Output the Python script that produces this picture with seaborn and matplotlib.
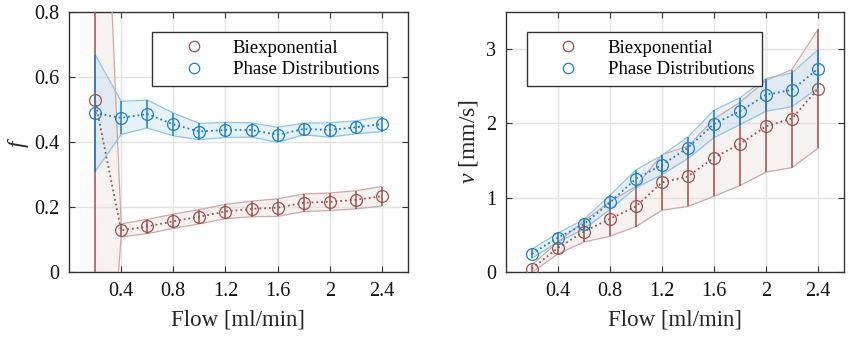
import numpy as np
import pandas as pd
import seaborn as sns
import matplotlib.pyplot as plt
from matplotlib.lines import Line2D

flow = [0.2, 0.4, 0.6, 0.8, 1.0, 1.2, 1.4, 1.6, 1.8, 2.0, 2.2, 2.4]

# perfusion fraction f
f_bi = [0.528, 0.128, 0.140, 0.156, 0.170, 0.186, 0.194, 0.198, 0.213, 0.216, 0.222, 0.233]
f_bi_sd = [1.50, 0.020, 0.022, 0.022, 0.022, 0.022, 0.024, 0.027, 0.027, 0.027, 0.028, 0.030]
f_pd = [0.489, 0.474, 0.486, 0.454, 0.432, 0.437, 0.437, 0.422, 0.440, 0.437, 0.445, 0.455]
f_pd_sd = [0.180, 0.051, 0.043, 0.035, 0.025, 0.023, 0.022, 0.023, 0.018, 0.022, 0.020, 0.023]

# velocity v [mm/s]
v_bi = [0.045, 0.324, 0.544, 0.715, 0.882, 1.206, 1.287, 1.539, 1.723, 1.961, 2.065, 2.465]
v_bi_sd = [0.05, 0.08, 0.14, 0.234, 0.27, 0.374, 0.405, 0.52, 0.56, 0.616, 0.66, 0.80]
v_pd = [0.247, 0.463, 0.643, 0.936, 1.255, 1.440, 1.673, 1.993, 2.164, 2.384, 2.452, 2.735]
v_pd_sd = [0.06, 0.06, 0.065, 0.095, 0.12, 0.13, 0.145, 0.185, 0.18, 0.22, 0.227, 0.257]

methods = ['Biexponential', 'Phase Distributions']
colors = {'Biexponential': '#A0504E', 'Phase Distributions': '#1A80C8'}
edge_cols = {'Biexponential': '#CFA8A8', 'Phase Distributions': '#8EC4EA'}
fill_cols = {'Biexponential': '#E6DDDA', 'Phase Distributions': '#BCD9F2'}
fill_alpha = {'Biexponential': 0.38, 'Phase Distributions': 0.33}

sns.set_theme(style='whitegrid')
plt.rcParams['font.family'] = ['Liberation Serif', 'DejaVu Serif']
plt.rcParams['mathtext.fontset'] = 'custom'
plt.rcParams['mathtext.it'] = 'Liberation Serif:italic'
plt.rcParams['mathtext.rm'] = 'Liberation Serif'

fig = plt.figure(figsize=(8.56, 3.44), dpi=100)
ax1 = fig.add_axes([0.0806, 0.2093, 0.396, 0.756])
ax2 = fig.add_axes([0.591, 0.2093, 0.395, 0.756])


def make_df(a, a_sd, b, b_sd):
    rows = []
    for name, m, s in [(methods[0], a, a_sd), (methods[1], b, b_sd)]:
        for x, mm, ss in zip(flow, m, s):
            rows.append([name, x, mm, ss])
    return pd.DataFrame(rows, columns=['method', 'flow', 'mean', 'sd'])


def draw(ax, df, leg_x):
    for name in methods:
        d = df[df.method == name]
        lo = d['mean'] - d['sd']
        hi = d['mean'] + d['sd']
        ax.fill_between(d.flow, lo, hi, color=fill_cols[name], alpha=fill_alpha[name],
                        lw=0, zorder=2)
        ax.plot(d.flow, lo, color=edge_cols[name], lw=0.9, zorder=3)
        ax.plot(d.flow, hi, color=edge_cols[name], lw=0.9, zorder=3)
        ax.vlines(d.flow, lo, hi, color=colors[name], lw=1.1, zorder=4)
    sns.lineplot(data=df, x='flow', y='mean', hue='method', palette=colors,
                 linestyle=':', lw=1.3, marker='o', markersize=8.5,
                 markerfacecolor='none', markeredgewidth=0.9, ax=ax,
                 legend=False, zorder=5)
    for l in ax.lines[-2:]:
        l.set_markeredgecolor(l.get_color())
    ax.set_xlim(0, 2.6)
    ax.set_xticks([0.4, 0.8, 1.2, 1.6, 2.0, 2.4])
    ax.set_xticklabels(['0.4', '0.8', '1.2', '1.6', '2', '2.4'])
    ax.set_xlabel('Flow [ml/min]', fontsize=16.5, labelpad=6)
    ax.grid(True, color='#E3E3E3', lw=1)
    for sp in ax.spines.values():
        sp.set_color('#333333')
        sp.set_linewidth(1.0)
    ax.tick_params(direction='in', length=4, width=0.8, color='#333333',
                   top=True, right=True, bottom=True, left=True,
                   labelsize=14.5, pad=7, labelcolor='#111111')
    handles = [Line2D([], [], ls='none', marker='o', markersize=7.5,
                      markerfacecolor='none', markeredgecolor=colors[n],
                      markeredgewidth=0.9) for n in methods]
    leg = ax.legend(handles, methods, loc='upper right',
                    bbox_to_anchor=(leg_x, 0.923),
                    fontsize=13.5, frameon=True, fancybox=False,
                    handlelength=3.6, handletextpad=0.3, borderpad=0.4,
                    labelspacing=0.25, borderaxespad=0)
    leg.get_frame().set_edgecolor('#333333')
    leg.get_frame().set_linewidth(1.0)
    leg.get_frame().set_alpha(1)
    for t in leg.get_texts():
        t.set_color('#000000')


df_f = make_df(f_bi, f_bi_sd, f_pd, f_pd_sd)
df_v = make_df(v_bi, v_bi_sd, v_pd, v_pd_sd)

draw(ax1, df_f, 0.938)
ax1.set_ylim(0, 0.8)
ax1.set_yticks([0, 0.2, 0.4, 0.6, 0.8])
ax1.set_yticklabels(['0', '0.2', '0.4', '0.6', '0.8'])
ax1.set_ylabel('$f$', fontsize=17, labelpad=2)

draw(ax2, df_v, 0.756)
ax2.set_ylim(0, 3.5)
ax2.set_yticks([0, 1, 2, 3])
ax2.set_yticklabels(['0', '1', '2', '3'])
ax2.set_ylabel('$v$ [mm/s]', fontsize=17, labelpad=4)

fig.savefig('out.png', dpi=100)
